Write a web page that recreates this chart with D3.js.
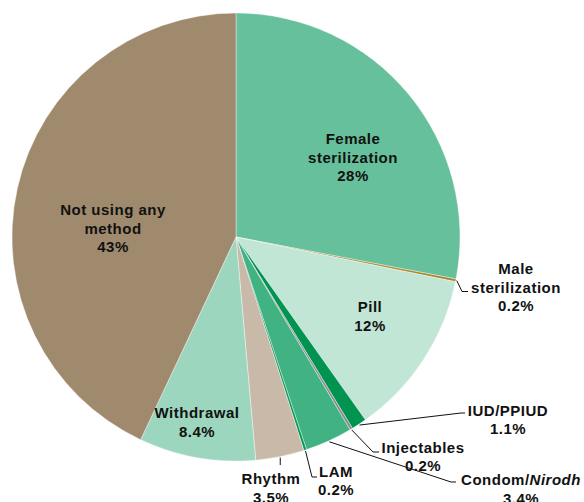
<html>
<head>
<meta charset="utf-8">
<style>
  body { margin: 0; background: #fff; }
  text { font-family: "Liberation Sans", Arial, sans-serif; font-weight: bold; font-size: 15px; fill: #111; letter-spacing: 0.5px; }
</style>
</head>
<body>
<div id="chartContainer"></div>
<script src="https://cdn.jsdelivr.net/npm/d3@7"></script>
<script type="text/javascript">
  // Methods, clockwise from 12 o'clock
  var methods = ["Female sterilization", "Male sterilization", "Pill", "IUD/PPIUD", "Injectables",
                 "Condom/Nirodh", "LAM", "Rhythm", "Withdrawal", "Not using any method"];
  var shares = [28, 0.2, 12, 1.1, 0.2, 3.4, 0.2, 3.5, 8.4, 43];
  var valueLabels = ["28%", "0.2%", "12%", "1.1%", "0.2%", "3.4%", "0.2%", "3.5%", "8.4%", "43%"];
  var colors = ["#66c09b", "#a58a2e", "#c1e6d5", "#009450", "#8c8c8c",
                "#41b282", "#079a5a", "#c8b9a8", "#9dd6be", "#a08a6e"];

  var width = 584, height = 502;
  var cx = 236, cy = 237, r = 224;

  var svg = d3.select("#chartContainer").append("svg")
    .attr("width", width).attr("height", height);

  var pie = d3.pie().sort(null).value(function (d) { return d; });
  var arcs = pie(shares);
  var arc = d3.arc().innerRadius(0).outerRadius(r);

  var g = svg.append("g").attr("transform", "translate(" + cx + "," + cy + ")");

  g.selectAll("path")
    .data(arcs)
    .enter()
    .append("path")
    .attr("d", arc)
    .attr("fill", function (d, i) { return colors[i]; })
    .attr("stroke", "#fff")
    .attr("stroke-width", 0.4);

  // label layout: text lines, centre x, first baseline; leader = [elbow x, elbow y, end x] (absolute)
  var layout = [
    { lines: ["Female", "sterilization"], x: 353, y: 144 },
    { lines: ["Male", "sterilization"], x: 516, y: 274, leader: [462, 291.5, 468] },
    { lines: ["Pill"], x: 370, y: 312 },
    { lines: ["IUD/PPIUD"], x: 508, y: 415.5, leader: [461, 413, 465] },
    { lines: ["Injectables"], x: 423, y: 452.5, leader: [373, 452, 379] },
    { lines: ["Condom/", "Nirodh"], x: 521, y: 485, leader: [451, 482, 456], inline: true },
    { lines: ["LAM"], x: 336, y: 476.5, leader: [312, 477, 317] },
    { lines: ["Rhythm"], x: 271, y: 484, leader: [null, 465, null] },
    { lines: ["Withdrawal"], x: 197, y: 418 },
    { lines: ["Not using any", "method"], x: 113, y: 215 }
  ];
  var lh = 18.7;

  // leader lines
  layout.forEach(function (L, i) {
    if (!L.leader) return;
    var a = (arcs[i].startAngle + arcs[i].endAngle) / 2;
    var sx = cx + (r + 1) * Math.sin(a), sy = cy - (r + 1) * Math.cos(a);
    var ex = L.leader[0] === null ? sx : L.leader[0];
    var endx = L.leader[2] === null ? ex : L.leader[2];
    svg.append("path")
      .attr("d", "M" + sx + "," + sy + "L" + ex + "," + L.leader[1] + "L" + endx + "," + L.leader[1])
      .attr("fill", "none")
      .attr("stroke", "#111")
      .attr("stroke-width", 1);
  });

  // labels
  layout.forEach(function (L, i) {
    var t = svg.append("text").attr("text-anchor", "middle");
    var rows = L.inline ? [null] : L.lines;
    if (L.inline) {
      var tt = t.append("tspan").attr("x", L.x).attr("y", L.y);
      tt.append("tspan").text(L.lines[0]);
      tt.append("tspan").style("font-style", "italic").text(L.lines[1]);
      t.append("tspan").attr("x", L.x).attr("y", L.y + lh).text(valueLabels[i]);
      return;
    }
    L.lines.forEach(function (s, k) {
      t.append("tspan").attr("x", L.x).attr("y", L.y + k * lh).text(s);
    });
    t.append("tspan").attr("x", L.x).attr("y", L.y + L.lines.length * lh).text(valueLabels[i]);
  });
</script>
</body>
</html>
